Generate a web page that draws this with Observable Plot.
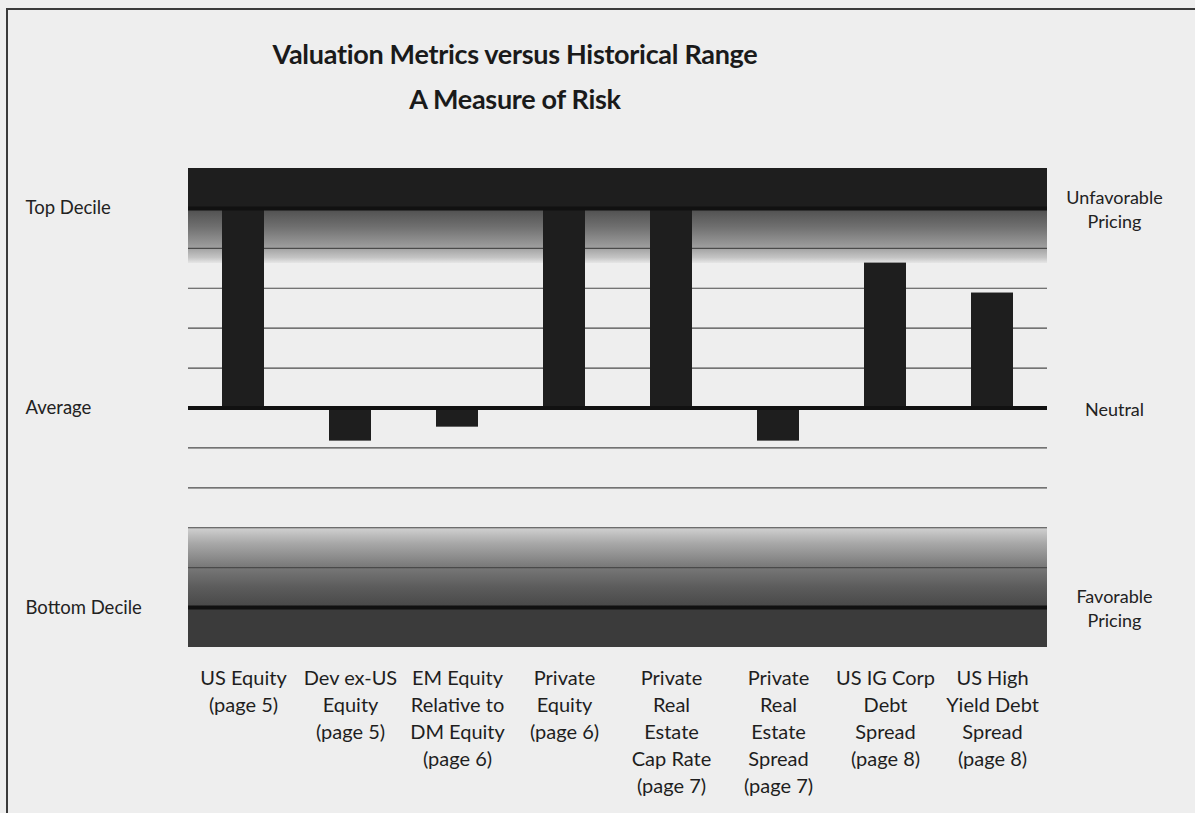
<!DOCTYPE html>
<html>
<head>
<meta charset="utf-8">
<script src="https://cdn.jsdelivr.net/npm/d3@7"></script>
<script src="https://cdn.jsdelivr.net/npm/@observablehq/plot@0.6"></script>
<style>
  html, body { margin: 0; padding: 0; }
  body { width: 1195px; height: 813px; background: #eeeeee; position: relative; overflow: hidden; font-family: Lato, "Open Sans", sans-serif; color: #1e1e1e; }
  #frame { position: absolute; left: 6px; top: 8px; width: 1300px; height: 900px; border-top: 2px solid #3a3a3a; border-left: 2px solid #3a3a3a; }
  #title { position: absolute; left: 0; top: 31px; width: 1030px; text-align: center; font-weight: 700; font-size: 27px; line-height: 45px; letter-spacing: -0.3px; color: #1a1a1a; }
  #chart { position: absolute; left: 0; top: 150px; }
</style>
</head>
<body>
<div id="frame"></div>
<div id="title">Valuation Metrics versus Historical Range<br>A Measure of Risk</div>
<div id="chart"></div>
<script>
// Categories (x axis labels)
const categories = [
  "US Equity\n(page 5)",
  "Dev ex-US\nEquity\n(page 5)",
  "EM Equity\nRelative to\nDM Equity\n(page 6)",
  "Private\nEquity\n(page 6)",
  "Private\nReal\nEstate\nCap Rate\n(page 7)",
  "Private\nReal\nEstate\nSpread\n(page 7)",
  "US IG Corp\nDebt\nSpread\n(page 8)",
  "US High\nYield Debt\nSpread\n(page 8)"
];
// Position relative to historical range (0 = average, +5 = top decile, -5 = bottom decile)
const values = [5, -0.83, -0.48, 5, 5, -0.83, 3.63, 2.88];

// Minor gridlines and key levels
const gridValues = [4, 3, 2, 1, -1, -2, -3, -4];
const keyLevels = [5, 0, -5];
const leftLabels = ["Top Decile", "Average", "Bottom Decile"];
const rightLabels = ["Unfavorable\nPricing", "Neutral", "Favorable\nPricing"];

// Shaded zones
const zoneLow = [5, 3.62, -5, -6];
const zoneHigh = [6, 5, -3, -5];
const zoneFill = ["#1e1e1e", "url(#gradTop)", "url(#gradBottom)", "#3b3b3b"];

const bars = categories.map((c, i) => ({cat: c, v: values[i]}));
const zones = zoneLow.map((lo, i) => ({lo, hi: zoneHigh[i], fill: zoneFill[i]}));
const keys = keyLevels.map((y, i) => ({y, left: leftLabels[i], right: rightLabels[i]}));

const chart = Plot.plot({
  width: 1195,
  height: 663,
  marginTop: 18,
  marginBottom: 166,
  marginLeft: 188,
  marginRight: 148,
  style: {background: "transparent", fontFamily: "Lato, 'Open Sans', sans-serif", color: "#1e1e1e"},
  x: {domain: categories, paddingInner: 0.61, paddingOuter: 0.305, label: null},
  y: {domain: [-6, 6], label: null},
  marks: [
    Plot.rectY(zones, {y1: "lo", y2: "hi", fill: (d) => d.fill}),
    Plot.ruleY(gridValues, {stroke: "#4a4a4a", strokeWidth: 1.2}),
    Plot.barY(bars, {x: "cat", y: "v", fill: "#1e1e1e"}),
    Plot.ruleY(keys, {y: "y", stroke: "#111", strokeWidth: 4}),
    Plot.text(keys, {y: "y", text: "left", frameAnchor: "left", textAnchor: "start", dx: -163, fontSize: 18.5, fill: "#222"}),
    Plot.text(keys, {y: "y", text: "right", frameAnchor: "right", textAnchor: "middle", dx: 67, fontSize: 18, lineHeight: 1.3, fill: "#222"}),
    Plot.axisX({tickSize: 0, tickPadding: 18, fontSize: 20, lineHeight: 1.35, lineAnchor: "top", fill: "#1e1e1e"}),
    Plot.axisY({ticks: [], tickSize: 0, label: null})
  ]
});

// Gradient definitions for the shaded decile zones
const svg = d3.select(chart);
const defs = svg.insert("defs", ":first-child");
const gTop = defs.append("linearGradient").attr("id", "gradTop").attr("x1", 0).attr("y1", 0).attr("x2", 0).attr("y2", 1);
[[0, "#4e4e4e"], [0.35, "#707070"], [0.7, "#9c9c9c"], [0.9, "#c4c4c4"], [1, "#e6e6e6"]]
  .forEach(([o, c]) => gTop.append("stop").attr("offset", o).attr("stop-color", c));
const gBot = defs.append("linearGradient").attr("id", "gradBottom").attr("x1", 0).attr("y1", 0).attr("x2", 0).attr("y2", 1);
[[0, "#d2d2d2"], [0.2, "#a8a8a8"], [0.5, "#787878"], [0.75, "#5c5c5c"], [1, "#484848"]]
  .forEach(([o, c]) => gBot.append("stop").attr("offset", o).attr("stop-color", c));

document.getElementById("chart").appendChild(chart);
</script>
</body>
</html>
